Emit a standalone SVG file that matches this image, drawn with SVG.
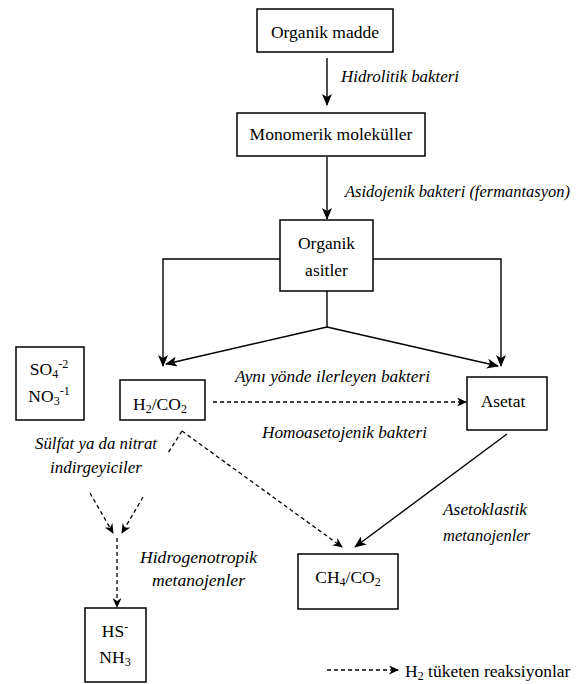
<svg xmlns="http://www.w3.org/2000/svg" width="587" height="684" viewBox="0 0 587 684">
<defs>
<marker id="ah" markerUnits="userSpaceOnUse" markerWidth="12" markerHeight="10" viewBox="0 0 12 10" refX="11" refY="5" orient="auto">
<path d="M0,0 L12,5 L0,10 L3,5 Z" fill="#000"/>
</marker>
<marker id="ahd" markerUnits="userSpaceOnUse" markerWidth="10" markerHeight="9" viewBox="0 0 10 9" refX="9" refY="4.5" orient="auto">
<path d="M0,0 L10,4.5 L0,9 L3,4.5 Z" fill="#000"/>
</marker>
</defs>
<style>
text{font-family:'Liberation Serif','Times New Roman',serif}
.box{fill:#fff;stroke:#000;stroke-width:1.5}
.t{font-size:17.5px;fill:#000}
.c{text-anchor:middle}
.lb{font-size:16.5px;font-style:italic;fill:#000}
.s{stroke:#000;stroke-width:1.4;fill:none}
.d{stroke:#000;stroke-width:1.3;fill:none;stroke-dasharray:4 3}
.sub{font-size:12px}
</style>
<rect width="587" height="684" fill="#fff"/>

<g id="connectors">
<line class="s" x1="327" y1="58" x2="327" y2="105" marker-end="url(#ah)"/>
<line class="s" x1="327" y1="157" x2="327" y2="219" marker-end="url(#ah)"/>
<polyline class="s" points="280,259 163,259 163,366" marker-end="url(#ah)"/>
<polyline class="s" points="373,259 501,259 501,366" marker-end="url(#ah)"/>
<line class="s" x1="327" y1="291" x2="327" y2="327"/>
<line class="s" x1="327" y1="327" x2="166" y2="364" marker-end="url(#ah)"/>
<line class="s" x1="327" y1="327" x2="498" y2="366" marker-end="url(#ah)"/>
<line class="d" x1="213" y1="402" x2="466" y2="402" marker-end="url(#ahd)"/>
<line class="d" x1="182" y1="431" x2="168" y2="453"/>
<line class="d" x1="143" y1="497" x2="122" y2="533" marker-end="url(#ahd)"/>
<line class="d" x1="90" y1="493" x2="113" y2="533" marker-end="url(#ahd)"/>
<line class="d" x1="117" y1="538" x2="117" y2="607" marker-end="url(#ahd)"/>
<line class="d" x1="182" y1="431" x2="342" y2="547" marker-end="url(#ahd)"/>
<line class="s" x1="507" y1="434" x2="355" y2="547" marker-end="url(#ah)"/>
<line class="d" x1="327" y1="670" x2="398" y2="670" marker-end="url(#ahd)"/>
</g>

<g id="organik-madde">
<rect class="box" x="257" y="9" width="136" height="43"/>
<text class="t c" x="325" y="38">Organik madde</text>
</g>
<text class="lb" x="341" y="82" textLength="118" lengthAdjust="spacingAndGlyphs">Hidrolitik bakteri</text>

<g id="monomerik">
<rect class="box" x="237" y="113" width="188" height="43"/>
<text class="t c" x="331" y="140">Monomerik moleküller</text>
</g>
<text class="lb" x="345" y="197" textLength="225" lengthAdjust="spacingAndGlyphs">Asidojenik bakteri (fermantasyon)</text>

<g id="organik-asitler">
<rect class="box" x="280" y="220" width="93" height="71"/>
<text class="t c" x="326.5" y="249">Organik</text>
<text class="t c" x="326.5" y="276">asitler</text>
</g>

<g id="so4-no3">
<rect class="box" x="16" y="347" width="68" height="73"/>
<text class="t c" x="49" y="375">SO<tspan class="sub" dy="3">4</tspan><tspan class="sub" dy="-10">-2</tspan></text>
<text class="t c" x="49" y="402">NO<tspan class="sub" dy="3">3</tspan><tspan class="sub" dy="-10">-1</tspan></text>
</g>

<g id="h2-co2">
<rect class="box" x="120" y="380" width="85" height="40"/>
<text class="t c" x="160" y="410">H<tspan class="sub" dy="3">2</tspan><tspan dy="-3">/CO</tspan><tspan class="sub" dy="3">2</tspan></text>
</g>

<g id="asetat">
<rect class="box" x="467" y="377" width="80" height="53"/>
<text class="t c" x="503" y="407">Asetat</text>
</g>

<text class="lb" x="235" y="382" textLength="195" lengthAdjust="spacingAndGlyphs">Aynı yönde ilerleyen bakteri</text>
<text class="lb" x="262" y="438" textLength="165" lengthAdjust="spacingAndGlyphs">Homoasetojenik bakteri</text>
<text class="lb" x="35" y="449" textLength="122" lengthAdjust="spacingAndGlyphs">Sülfat ya da nitrat</text>
<text class="lb" x="50" y="473" textLength="92" lengthAdjust="spacingAndGlyphs">indirgeyiciler</text>
<text class="lb" x="140" y="563" textLength="117" lengthAdjust="spacingAndGlyphs">Hidrogenotropik</text>
<text class="lb" x="152" y="586" textLength="93" lengthAdjust="spacingAndGlyphs">metanojenler</text>
<text class="lb" x="443" y="515" textLength="84" lengthAdjust="spacingAndGlyphs">Asetoklastik</text>
<text class="lb" x="443" y="541" textLength="87" lengthAdjust="spacingAndGlyphs">metanojenler</text>

<g id="ch4-co2">
<rect class="box" x="298" y="554" width="100" height="55"/>
<text class="t c" x="348" y="583">CH<tspan class="sub" dy="3">4</tspan><tspan dy="-3">/CO</tspan><tspan class="sub" dy="3">2</tspan></text>
</g>

<g id="hs-nh3">
<rect class="box" x="85" y="608" width="61" height="74"/>
<text class="t c" x="115" y="637">HS<tspan class="sub" dy="-6">-</tspan></text>
<text class="t c" x="115" y="663">NH<tspan class="sub" dy="3">3</tspan></text>
</g>

<g id="legend">
<text class="t" x="405" y="677">H<tspan class="sub" dy="3">2</tspan><tspan dy="-3"> tüketen reaksiyonlar</tspan></text>
</g>
</svg>
